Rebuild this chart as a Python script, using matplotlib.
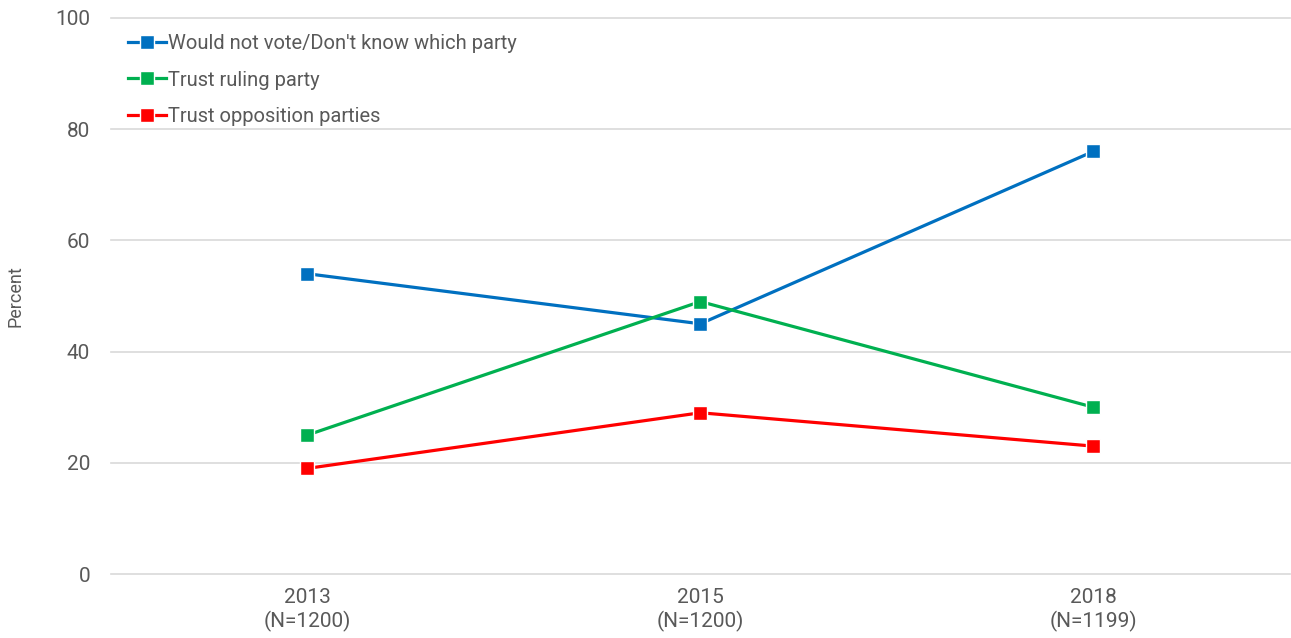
import matplotlib.pyplot as plt

years = ["2013\n(N=1200)", "2015\n(N=1200)", "2018\n(N=1199)"]
would_not_vote = [54, 45, 76]
trust_ruling = [25, 49, 30]
trust_opposition = [19, 29, 23]

plt.rcParams['font.family'] = ['Roboto', 'DejaVu Sans']
grey = "#595959"

fig = plt.figure(figsize=(12.91, 6.38), dpi=100)
ax = fig.add_axes([0.086, 0.1003, 0.913, 0.8715])

x = list(range(len(years)))
series = [
    (would_not_vote, "#0070C0", "Would not vote/Don't know which party"),
    (trust_ruling, "#00B050", "Trust ruling party"),
    (trust_opposition, "#FF0000", "Trust opposition parties"),
]
for vals, col, lab in series:
    ax.plot(x, vals, color=col, lw=2.3, marker="s", ms=10,
            mec="white", mew=1.0, label=lab, zorder=3)

ax.set_xlim(-0.5, 2.5)
ax.set_ylim(0, 100)
ax.set_yticks(range(0, 101, 20))
ax.set_xticks(x)
ax.set_xticklabels(years, linespacing=1.25)
ax.grid(axis="y", color="#d9d9d9", lw=1.2)
for gl in ax.get_ygridlines():
    gl.set_clip_on(False)
ax.set_axisbelow(True)
for s in ax.spines.values():
    s.set_visible(False)
ax.tick_params(length=0, labelsize=15, colors=grey)
ax.tick_params(axis="y", pad=15)
ax.tick_params(axis="x", pad=10)
ax.set_ylabel("Percent", fontsize=13, color=grey, labelpad=22)

ax.legend(loc="upper left", bbox_to_anchor=(0.0076, 0.985), frameon=False,
          fontsize=14.5, labelcolor=grey, handlelength=1.9, handletextpad=0.1,
          labelspacing=0.85, borderaxespad=0)

fig.savefig("out.png", dpi=100)
